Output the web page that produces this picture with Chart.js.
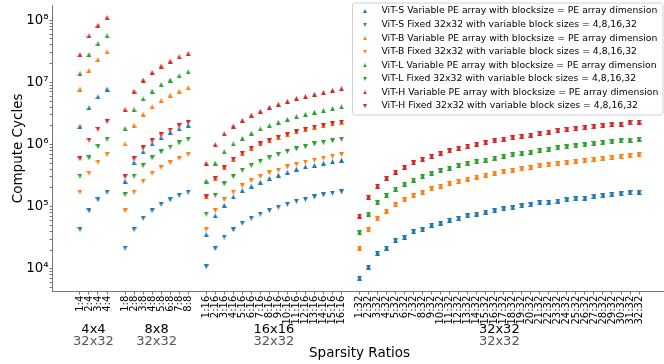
<!DOCTYPE html>
<html>
<head>
<meta charset="utf-8">
<script src="https://cdn.jsdelivr.net/npm/chart.js@4.4.1/dist/chart.umd.min.js"></script>
<style>
  html, body { margin: 0; padding: 0; background: #fff; overflow: hidden; }
  #wrap { width: 664px; height: 364px; overflow: hidden; }
  canvas { display: block; }
</style>
</head>
<body>
<div id="wrap"><canvas id="chart" width="672" height="364"></canvas></div>
<script>
// tick labels per group
const labels4 = ['1:4', '2:4', '3:4', '4:4'];
const labels8 = ['1:8', '2:8', '3:8', '4:8', '5:8', '6:8', '7:8', '8:8'];
const labels16 = ['1:16', '2:16', '3:16', '4:16', '5:16', '6:16', '7:16', '8:16',
  '9:16', '10:16', '11:16', '12:16', '13:16', '14:16', '15:16', '16:16'];
const labels32 = ['1:32', '2:32', '3:32', '4:32', '5:32', '6:32', '7:32', '8:32',
  '9:32', '10:32', '11:32', '12:32', '13:32', '14:32', '15:32', '16:32',
  '17:32', '18:32', '19:32', '20:32', '21:32', '22:32', '23:32', '24:32',
  '25:32', '26:32', '27:32', '28:32', '29:32', '30:32', '31:32', '32:32'];
const groupNames = ['4x4', '8x8', '16x16', '32x32'];
const groupArrays = ['32x32', '32x32', '32x32', '32x32'];

// 32x32 group: variable and fixed are the same PE array
const vitS_32 = [7.03e3, 1.06e4, 1.77e4, 2.15e4, 2.84e4, 3.21e4, 3.94e4, 4.24e4,
  5.02e4, 5.41e4, 6.03e4, 6.40e4, 7.14e4, 7.59e4, 8.17e4, 8.57e4,
  9.21e4, 9.55e4, 1.03e5, 1.07e5, 1.15e5, 1.17e5, 1.23e5, 1.28e5,
  1.34e5, 1.37e5, 1.46e5, 1.50e5, 1.57e5, 1.61e5, 1.67e5, 1.69e5];
const vitB_32 = [2.15e4, 4.24e4, 6.32e4, 8.47e4, 1.07e5, 1.28e5, 1.50e5, 1.69e5,
  1.93e5, 2.13e5, 2.34e5, 2.55e5, 2.78e5, 2.99e5, 3.21e5, 3.46e5,
  3.63e5, 3.81e5, 4.05e5, 4.25e5, 4.52e5, 4.69e5, 4.92e5, 5.10e5,
  5.36e5, 5.48e5, 5.75e5, 5.97e5, 6.19e5, 6.42e5, 6.58e5, 6.82e5];
const vitL_32 = [3.80e4, 7.59e4, 1.15e5, 1.51e5, 1.91e5, 2.29e5, 2.68e5, 3.06e5,
  3.42e5, 3.77e5, 4.15e5, 4.57e5, 4.98e5, 5.29e5, 5.62e5, 6.04e5,
  6.42e5, 6.82e5, 7.25e5, 7.52e5, 7.99e5, 8.39e5, 8.81e5, 9.13e5,
  9.46e5, 9.82e5, 1.03e6, 1.07e6, 1.10e6, 1.14e6, 1.18e6, 1.22e6];
const vitH_32 = [7.06e4, 1.41e5, 2.13e5, 2.85e5, 3.59e5, 4.30e5, 5.04e5, 5.75e5,
  6.42e5, 7.16e5, 7.89e5, 8.69e5, 9.35e5, 1.007e6, 1.07e6, 1.15e6,
  1.22e6, 1.28e6, 1.35e6, 1.41e6, 1.50e6, 1.58e6, 1.66e6, 1.74e6,
  1.80e6, 1.87e6, 1.94e6, 2.01e6, 2.08e6, 2.13e6, 2.24e6, 2.30e6];

// groups 4x4, 8x8, 16x16
const vitS_var = [1.96e6, 3.9e6, 5.85e6, 7.8e6,
  2.55e5, 5.1e5, 7.6e5, 1.02e6, 1.28e6, 1.56e6, 1.78e6, 2.03e6,
  3.54e4, 7.1e4, 1.05e5, 1.43e5, 1.82e5, 2.13e5, 2.46e5, 2.84e5, 3.2e5, 3.54e5, 4.0e5, 4.36e5, 4.6e5, 4.97e5, 5.3e5, 5.6e5
].concat(vitS_32);
const vitS_fix = [4.3e4, 8.6e4, 1.29e5, 1.71e5,
  2.15e4, 4.3e4, 6.5e4, 8.6e4, 1.09e5, 1.29e5, 1.52e5, 1.71e5,
  1.08e4, 2.12e4, 3.24e4, 4.24e4, 5.4e4, 6.5e4, 7.6e4, 8.7e4, 9.8e4, 1.09e5, 1.22e5, 1.31e5, 1.43e5, 1.55e5, 1.65e5, 1.73e5
].concat(vitS_32);
const vitB_var = [7.8e6, 1.56e7, 2.33e7, 3.1e7,
  1.02e6, 2.03e6, 3.07e6, 4.06e6, 5.1e6, 6.2e6, 7.2e6, 8.2e6,
  1.43e5, 2.84e5, 4.25e5, 5.75e5, 7.2e5, 8.7e5, 1.02e6, 1.15e6, 1.3e6, 1.45e6, 1.59e6, 1.74e6, 1.91e6, 2.01e6, 2.16e6, 2.29e6
].concat(vitB_32);
const vitB_fix = [1.71e5, 3.45e5, 5.2e5, 6.9e5,
  8.6e4, 1.71e5, 2.55e5, 3.45e5, 4.25e5, 5.1e5, 5.96e5, 6.9e5,
  4.3e4, 8.6e4, 1.29e5, 1.71e5, 2.18e5, 2.62e5, 3.06e5, 3.5e5, 3.85e5, 4.36e5, 4.8e5, 5.2e5, 5.6e5, 6.05e5, 6.5e5, 6.9e5
].concat(vitB_32);
const vitL_var = [1.38e7, 2.8e7, 4.2e7, 5.6e7,
  1.8e6, 3.64e6, 5.4e6, 7.2e6, 9.2e6, 1.09e7, 1.27e7, 1.47e7,
  2.58e5, 5.0e5, 7.6e5, 1.02e6, 1.25e6, 1.52e6, 1.78e6, 2.01e6, 2.27e6, 2.53e6, 2.79e6, 3.04e6, 3.3e6, 3.51e6, 3.77e6, 4.02e6
].concat(vitL_32);
const vitL_fix = [3.1e5, 6.1e5, 9.3e5, 1.22e6,
  1.57e5, 3.1e5, 4.6e5, 6.1e5, 7.6e5, 9.1e5, 1.06e6, 1.22e6,
  7.6e4, 1.52e5, 2.32e5, 3.06e5, 3.85e5, 4.6e5, 5.35e5, 6.1e5, 6.9e5, 7.7e5, 8.5e5, 9.2e5, 1.02e6, 1.08e6, 1.15e6, 1.22e6
].concat(vitL_32);
const vitH_var = [2.8e7, 5.6e7, 8.3e7, 1.1e8,
  3.64e6, 7.2e6, 1.09e7, 1.44e7, 1.83e7, 2.19e7, 2.57e7, 2.9e7,
  4.97e5, 9.9e5, 1.48e6, 1.98e6, 2.44e6, 2.96e6, 3.42e6, 3.96e6, 4.42e6, 4.93e6, 5.5e6, 5.9e6, 6.4e6, 6.84e6, 7.45e6, 7.9e6
].concat(vitH_32);
const vitH_fix = [5.9e5, 1.18e6, 1.76e6, 2.35e6,
  3.03e5, 5.9e5, 8.8e5, 1.15e6, 1.43e6, 1.71e6, 2.01e6, 2.27e6,
  1.43e5, 2.84e5, 4.25e5, 5.75e5, 7.2e5, 8.7e5, 1.02e6, 1.15e6, 1.3e6, 1.45e6, 1.59e6, 1.74e6, 1.91e6, 2.01e6, 2.16e6, 2.29e6
].concat(vitH_32);

const yMajor = [1e4, 1e5, 1e6, 1e7, 1e8];
const yMajorLabels = ['10⁴', '10⁵', '10⁶', '10⁷', '10⁸'];

const varText = 'Variable PE array with blocksize = PE array dimension';
const fixText = 'Fixed 32x32 with variable block sizes = 4,8,16,32';

// x positions: one empty slot between groups
const groups = [labels4, labels8, labels16, labels32];
const xLabels = [];
const xPos = [];
const groupCenters = [];
let p = 0;
groups.forEach(g => {
  const start = p;
  g.forEach(l => { xLabels.push(l); xPos.push(p); p++; });
  groupCenters.push((start + p - 1) / 2);
  p++;
});

// log minor ticks
const yTicks = [];
for (let e = 3; e <= 8; e++) {
  for (let m = 1; m <= 9; m++) {
    const v = m * Math.pow(10, e);
    if (v >= 4270 && v <= 1.76e8) yTicks.push(v);
  }
}

function marker(color, up, size) {
  const c = document.createElement('canvas');
  c.width = size; c.height = size;
  const g = c.getContext('2d');
  g.fillStyle = color;
  g.beginPath();
  if (up) { g.moveTo(size / 2, 0); g.lineTo(size, size); g.lineTo(0, size); }
  else { g.moveTo(0, 0); g.lineTo(size, 0); g.lineTo(size / 2, size); }
  g.closePath();
  g.fill();
  return c;
}

const colors = ['#1f77b4', '#ff7f0e', '#2ca02c', '#d62728'];
const models = ['ViT-S', 'ViT-B', 'ViT-L', 'ViT-H'];
const seriesVar = [vitS_var, vitB_var, vitL_var, vitH_var];
const seriesFix = [vitS_fix, vitB_fix, vitL_fix, vitH_fix];

const datasets = [];
models.forEach((m, i) => {
  [[seriesVar[i], true, varText], [seriesFix[i], false, fixText]].forEach(([vals, up, txt]) => {
    datasets.push({
      label: m + ' ' + txt,
      data: vals.map((v, k) => ({ x: xPos[k], y: v })),
      pointStyle: marker(colors[i], up, 5),
      legendMarker: marker(colors[i], up, 4),
      pointRadius: 3,
      showLine: false,
      order: 8 - datasets.length
    });
  });
});

const FONT = 'DejaVu Sans';

const extras = {
  id: 'extras',
  afterDraw(chart) {
    const ctx = chart.ctx;
    const a = chart.chartArea;
    const xs = chart.scales.x;
    ctx.save();
    ctx.textAlign = 'center';
    ctx.textBaseline = 'middle';

    // axis titles
    ctx.fillStyle = '#000';
    ctx.font = '13.5px "' + FONT + '"';
    ctx.fillText('Sparsity Ratios', (a.left + a.right) / 2, 353);
    ctx.save();
    ctx.translate(18, (a.top + a.bottom) / 2);
    ctx.rotate(-Math.PI / 2);
    ctx.fillText('Compute Cycles', 0, 0);
    ctx.restore();

    // group labels
    ctx.font = '13px "' + FONT + '"';
    groupCenters.forEach((c, i) => {
      const x = xs.getPixelForValue(c);
      ctx.fillStyle = '#000';
      ctx.fillText(groupNames[i], x, 330);
      ctx.fillStyle = '#555';
      ctx.fillText(groupArrays[i], x, 341.5);
    });

    // legend
    const lx = 352.5, ly = 3, lw = 310.5, lh = 112;
    ctx.beginPath();
    ctx.roundRect(lx, ly, lw, lh, 3);
    ctx.fillStyle = 'rgba(255,255,255,0.8)';
    ctx.fill();
    ctx.strokeStyle = '#d0d0d0';
    ctx.lineWidth = 1;
    ctx.stroke();
    ctx.font = '9.25px "' + FONT + '"';
    ctx.textAlign = 'left';
    chart.data.datasets.forEach((d, i) => {
      const y = 11 + i * 13.57;
      const mk = d.legendMarker;
      ctx.drawImage(mk, 365 - mk.width / 2, y - mk.height / 2);
      ctx.fillStyle = '#000';
      ctx.fillText(d.label, 381.5, y);
    });
    ctx.restore();
  }
};

new Chart(document.getElementById('chart'), {
  type: 'scatter',
  data: { datasets },
  plugins: [extras],
  options: {
    responsive: false,
    devicePixelRatio: 1,
    animation: false,
    layout: { padding: { left: 0, top: 0, right: 2.5, bottom: 0 } },
    plugins: { legend: { display: false }, tooltip: { enabled: false } },
    scales: {
      x: {
        type: 'linear',
        min: -3.1,
        max: 65.1,
        afterBuildTicks: s => { s.ticks = xPos.map(v => ({ value: v })); },
        afterFit: s => { s.height = 72.3; s.paddingLeft = 0; s.paddingRight = 0; },
        ticks: {
          autoSkip: false,
          maxRotation: 90,
          minRotation: 90,
          padding: 1,
          color: '#000',
          font: { family: FONT, size: 10 },
          callback: (v, i) => xLabels[i]
        },
        grid: { drawOnChartArea: false, tickLength: 3, color: '#777' },
        border: { color: '#777' }
      },
      y: {
        type: 'logarithmic',
        min: 4270,
        max: 1.76e8,
        afterBuildTicks: s => { s.ticks = yTicks.map(v => ({ value: v })); },
        afterFit: s => { s.width = 52; s.paddingTop = 0; s.paddingBottom = 0; },
        ticks: {
          autoSkip: false,
          padding: 1,
          color: '#000',
          font: { family: FONT, size: 13.3 },
          callback: v => {
            const k = yMajor.indexOf(v);
            return k >= 0 ? yMajorLabels[k] : '';
          }
        },
        grid: { drawOnChartArea: false, tickLength: 2.5, color: '#777' },
        border: { color: '#777' }
      }
    }
  }
});
</script>
</body>
</html>
